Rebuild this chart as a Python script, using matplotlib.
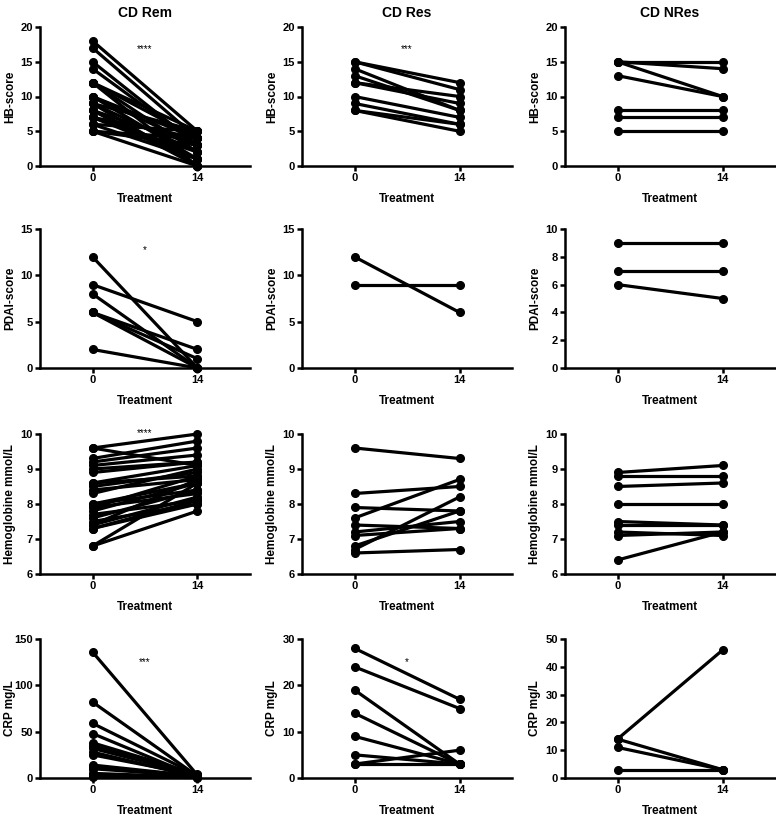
"""
Paired before/after plots (day 0 vs day 14) per response group.
"""

import matplotlib
matplotlib.use("Agg")
from matplotlib import pyplot as plt

plt.rcParams['font.family'] = ['Liberation Sans', 'DejaVu Sans']
plt.rcParams['font.weight'] = 'bold'

days = [0, 14]
groups = ["CD Rem", "CD Res", "CD NRes"]

# HB-score
rem_hb_d0 = [18, 17, 15, 14, 12, 12, 12, 12, 10, 10, 10, 9, 9, 9, 8, 8, 8, 7, 7, 7, 6, 6, 5, 5, 5]
rem_hb_d14 = [5, 4, 3, 3, 5, 4, 2, 0, 4, 3, 1, 5, 2, 0, 3, 1, 0, 4, 2, 1, 5, 1, 4, 3, 0]
res_hb_d0 = [15, 15, 14, 13, 12, 12, 10, 9, 8, 8]
res_hb_d14 = [12, 11, 8, 8, 10, 9, 7, 6, 5, 6]
nres_hb_d0 = [15, 15, 15, 13, 8, 7, 5]
nres_hb_d14 = [15, 14, 10, 10, 8, 7, 5]

# PDAI-score
rem_pdai_d0 = [12, 9, 8, 6, 6, 6, 2]
rem_pdai_d14 = [0, 5, 0, 2, 1, 0, 0]
res_pdai_d0 = [12, 9]
res_pdai_d14 = [6, 9]
nres_pdai_d0 = [9, 7, 6]
nres_pdai_d14 = [9, 7, 5]

# Hemoglobine mmol/L
rem_hgb_d0 = [9.6, 9.6, 9.3, 9.2, 9.1, 9.0, 8.9, 8.6, 8.6, 8.5, 8.4, 8.3, 8.0, 8.0,
              7.9, 7.9, 7.8, 7.7, 7.6, 7.5, 7.4, 7.4, 7.3, 7.3, 6.8, 6.8]
rem_hgb_d14 = [10.0, 9.1, 9.8, 9.6, 9.4, 9.2, 9.2, 9.1, 8.8, 8.9, 8.7, 9.0, 8.6, 8.4,
               8.8, 8.3, 8.6, 8.1, 8.4, 8.0, 8.2, 8.7, 8.0, 8.1, 8.6, 7.8]
res_hgb_d0 = [9.6, 8.3, 7.9, 7.6, 7.4, 7.2, 7.1, 6.8, 6.7, 6.6]
res_hgb_d14 = [9.3, 8.5, 7.8, 8.7, 7.3, 7.5, 7.3, 7.8, 8.2, 6.7]
nres_hgb_d0 = [8.9, 8.8, 8.5, 8.0, 7.5, 7.4, 7.2, 7.1, 6.4]
nres_hgb_d14 = [9.1, 8.8, 8.6, 8.0, 7.4, 7.4, 7.1, 7.2, 7.2]

# CRP mg/L
rem_crp_d0 = [136, 82, 59, 48, 38, 35, 32, 28, 25, 14, 12, 11, 10, 5, 3, 2, 1]
rem_crp_d14 = [3, 2, 3, 1, 4, 2, 3, 1, 3, 2, 1, 3, 2, 1, 3, 1, 0.5]
res_crp_d0 = [28, 24, 19, 14, 9, 5, 3, 3]
res_crp_d14 = [17, 15, 3, 3, 3, 3, 6, 3]
nres_crp_d0 = [14, 14, 11, 3]
nres_crp_d14 = [46, 3, 3, 3]

panels = [
    [(rem_hb_d0, rem_hb_d14, "HB-score", (0, 20), [0, 5, 10, 15, 20], "****", 16.8),
     (res_hb_d0, res_hb_d14, "HB-score", (0, 20), [0, 5, 10, 15, 20], "***", 16.8),
     (nres_hb_d0, nres_hb_d14, "HB-score", (0, 20), [0, 5, 10, 15, 20], "", 0)],
    [(rem_pdai_d0, rem_pdai_d14, "PDAI-score", (0, 15), [0, 5, 10, 15], "*", 12.7),
     (res_pdai_d0, res_pdai_d14, "PDAI-score", (0, 15), [0, 5, 10, 15], "", 0),
     (nres_pdai_d0, nres_pdai_d14, "PDAI-score", (0, 10), [0, 2, 4, 6, 8, 10], "", 0)],
    [(rem_hgb_d0, rem_hgb_d14, "Hemoglobine mmol/L", (6, 10), [6, 7, 8, 9, 10], "****", 10.03),
     (res_hgb_d0, res_hgb_d14, "Hemoglobine mmol/L", (6, 10), [6, 7, 8, 9, 10], "", 0),
     (nres_hgb_d0, nres_hgb_d14, "Hemoglobine mmol/L", (6, 10), [6, 7, 8, 9, 10], "", 0)],
    [(rem_crp_d0, rem_crp_d14, "CRP mg/L", (0, 150), [0, 50, 100, 150], "***", 125),
     (res_crp_d0, res_crp_d14, "CRP mg/L", (0, 30), [0, 10, 20, 30], "*", 25),
     (nres_crp_d0, nres_crp_d14, "CRP mg/L", (0, 50), [0, 10, 20, 30, 40, 50], "", 0)],
]

W, H = 776, 818
lefts = [40, 302, 565]
tops = [27, 229, 434, 639]
bottoms = [166, 368, 574, 778]
width = 210

fig = plt.figure(figsize=(W / 100, H / 100), dpi=100)

for r, row in enumerate(panels):
    for c, (d0, d14, ylabel, ylim, yticks, stars, star_y) in enumerate(row):
        ax = fig.add_axes([lefts[c] / W, 1 - bottoms[r] / H,
                           width / W, (bottoms[r] - tops[r]) / H])
        for a, b in zip(d0, d14):
            ax.plot(days, [a, b], color='black', lw=2.3, marker='o', ms=5.5,
                    solid_capstyle='round', clip_on=False)
        ax.set_xlim(-7, 21)
        ax.set_ylim(*ylim)
        ax.set_xticks(days)
        ax.set_yticks(yticks)
        for side in ['top', 'right']:
            ax.spines[side].set_visible(False)
        for side in ['left', 'bottom']:
            ax.spines[side].set_linewidth(1.8)
        ax.tick_params(width=1.8, length=3.5, labelsize=8, pad=1.5)
        for lab in ax.get_xticklabels() + ax.get_yticklabels():
            lab.set_fontweight('bold')
        ax.set_xlabel("Treatment", fontsize=8.5, fontweight='bold', labelpad=7)
        ax.set_ylabel(ylabel, fontsize=8.5, fontweight='bold')
        ax.yaxis.set_label_coords(-0.115, 0.5)
        if stars:
            ax.text(7, star_y, stars, ha='center', va='center', fontsize=7,
                    fontweight='normal')
        if r == 0:
            ax.set_title(groups[c], fontsize=10, fontweight='bold', pad=7)

fig.savefig("out.png", dpi=100)
